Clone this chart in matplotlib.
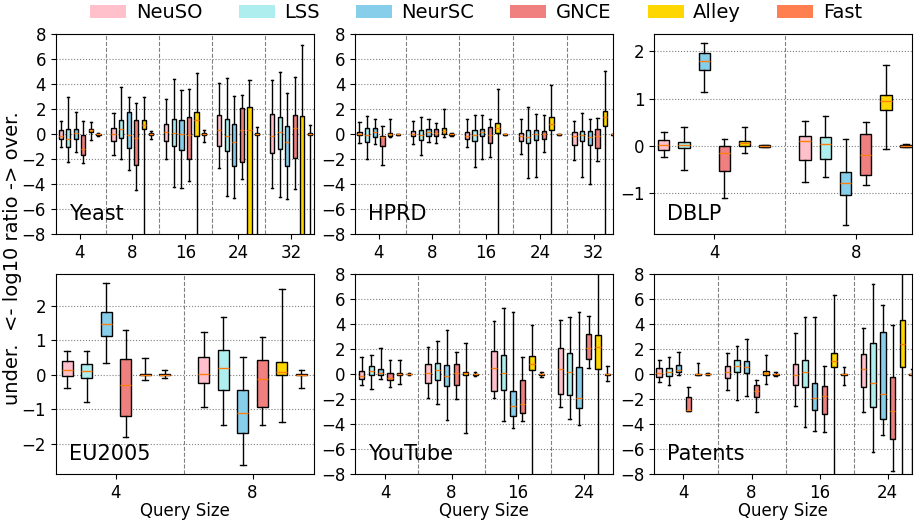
import numpy as np
import matplotlib
matplotlib.use('Agg')
import matplotlib.pyplot as plt
from matplotlib.patches import Patch

#================================================================================
# methods and colours
methods = ['NeuSO', 'LSS', 'NeurSC', 'GNCE', 'Alley', 'Fast']
colors = ['pink', 'paleturquoise', 'skyblue', 'lightcoral', 'gold', 'coral']

# each entry: (whislo, q1, median, q3, whishi) per query size
#--- Yeast
yeast_sizes = [4, 8, 16, 24, 32]
yeast_neuso = [(-1.0, -0.37, -0.1, 0.37, 1.04), (-1.63, -0.53, 0.03, 0.48, 1.7), (-2.0, -0.5, 0.16, 0.83, 2.8),
               (-2.72, -0.96, 0.35, 1.55, 4.1), (-4.3, -1.52, -0.1, 1.6, 4.37)]
yeast_lss = [(-2.2, -1.0, -0.4, 0.43, 3.0), (-1.97, -0.3, 0.43, 1.17, 3.76), (-4.2, -0.96, 0.08, 1.23, 4.43),
             (-4.93, -1.3, -0.1, 1.23, 4.5), (-5.0, -1.17, 0.2, 1.39, 5.0)]
yeast_neursc = [(-1.45, -0.37, 0.08, 0.43, 1.8), (-2.85, -1.12, -0.03, 1.8, 2.98), (-4.3, -1.25, 0.0, 1.12, 3.57),
                (-5.1, -2.5, -0.6, 0.83, 3.07), (-5.17, -2.5, -0.6, 0.7, 3.3)]
yeast_gnce = [(-2.27, -1.68, -1.15, -0.03, 1.1), (-4.43, -2.45, -0.3, 1.17, 2.48), (-3.7, -2.0, -0.05, 1.39, 3.63),
              (-3.57, -2.2, 0.32, 2.08, 3.15), (-4.4, -1.87, 0.5, 1.52, 4.56)]
yeast_alley = [(-0.43, 0.19, 0.37, 0.45, 0.96), (-9.0, 0.45, 0.75, 1.17, 3.0), (-9.0, -0.1, 1.15, 1.8, 4.9),
               (-10.0, -9.0, 0.35, 2.16, 4.37), (-10.0, -9.5, -8.8, 1.47, 7.17)]
yeast_fast = [(-0.15, -0.08, 0.0, 0.06, 0.12), (-0.35, -0.08, 0.0, 0.08, 0.24), (-0.6, -0.08, 0.0, 0.08, 0.35),
              (-9.0, -0.08, 0.0, 0.08, 0.56), (-9.0, -0.08, 0.0, 0.08, 0.72)]

#--- HPRD
hprd_sizes = [4, 8, 16, 24, 32]
hprd_neuso = [(-0.72, -0.08, 0.05, 0.21, 0.96), (-0.8, -0.13, 0.05, 0.24, 1.04), (-1.04, -0.4, -0.13, 0.16, 1.23),
              (-1.6, -0.56, -0.13, 0.08, 1.2), (-2.06, -0.86, -0.13, 0.16, 1.04)]
hprd_lss = [(-1.95, -0.59, -0.05, 0.48, 1.44), (-1.68, -0.48, -0.08, 0.37, 1.36), (-2.65, -0.53, -0.05, 0.37, 1.55),
            (-3.5, -0.67, -0.19, 0.35, 2.17), (-3.45, -0.53, -0.08, 0.27, 1.71)]
hprd_neursc = [(-0.75, -0.24, 0.21, 0.53, 1.26), (-0.61, -0.1, 0.16, 0.45, 1.26), (-1.95, -0.16, 0.19, 0.43, 1.58),
               (-3.42, -0.48, 0.0, 0.37, 1.6), (-4.0, -0.86, -0.19, 0.24, 1.26)]
hprd_gnce = [(-2.49, -0.94, -0.24, -0.1, 0.67), (-0.72, -0.1, 0.1, 0.43, 0.94), (-1.79, -0.67, -0.05, 0.56, 1.2),
             (-1.39, -0.4, 0.0, 0.29, 1.52), (-2.14, -1.12, -0.13, 0.43, 1.31)]
hprd_alley = [(-0.19, -0.13, 0.0, 0.1, 1.26), (-0.24, 0.0, 0.24, 0.51, 2.06), (-9.0, 0.13, 0.5, 0.91, 3.6),
              (-9.0, 0.35, 0.8, 1.36, 3.96), (-9.0, 0.67, 1.36, 1.87, 5.1)]
hprd_fast = [(-0.06, -0.03, 0.0, 0.03, 0.06), (-0.1, -0.04, 0.0, 0.04, 0.1), (-0.06, -0.03, 0.0, 0.03, 0.06),
             (-0.06, -0.03, 0.0, 0.03, 0.06), (-0.06, -0.03, 0.0, 0.03, 0.06)]

#--- DBLP
dblp_sizes = [4, 8]
dblp_neuso = [(-0.23, -0.08, 0.02, 0.12, 0.29), (-0.77, -0.29, 0.1, 0.22, 0.52)]
dblp_lss = [(-0.5, -0.04, 0.02, 0.09, 0.41), (-0.65, -0.27, 0.03, 0.19, 0.64)]
dblp_neursc = [(1.14, 1.6, 1.79, 1.96, 2.17), (-1.68, -1.04, -0.78, -0.55, 0.15)]
dblp_gnce = [(-1.11, -0.53, -0.15, 0.0, 0.15), (-0.82, -0.62, -0.2, 0.25, 0.51)]
dblp_alley = [(-0.15, 0.0, 0.06, 0.1, 0.39), (-0.06, 0.76, 0.95, 1.08, 1.72)]
dblp_fast = [(-0.02, -0.015, 0.0, 0.015, 0.02), (-0.03, -0.02, 0.0, 0.02, 0.03)]

#--- EU2005
eu_sizes = [4, 8]
eu_neuso = [(-0.39, -0.05, 0.13, 0.39, 0.69), (-0.94, -0.23, 0.03, 0.51, 1.23)]
eu_lss = [(-0.8, -0.11, 0.09, 0.32, 0.68), (-1.45, -0.44, 0.2, 0.7, 1.68)]
eu_neursc = [(0.35, 1.13, 1.46, 1.81, 2.65), (-2.62, -1.7, -1.1, -0.46, 0.5)]
eu_gnce = [(-1.81, -1.19, -0.29, 0.46, 1.3), (-1.47, -0.93, -0.13, 0.42, 1.1)]
eu_alley = [(-0.16, -0.02, 0.0, 0.03, 0.47), (-1.37, -0.02, 0.08, 0.36, 2.47)]
eu_fast = [(-0.1, -0.02, 0.0, 0.02, 0.12), (-0.4, -0.02, 0.0, 0.02, 0.12)]

#--- YouTube
yt_sizes = [4, 8, 16, 24]
yt_neuso = [(-0.88, -0.4, -0.13, 0.21, 1.39), (-1.9, -0.7, 0.05, 0.8, 2.19), (-1.93, -1.36, 0.45, 1.87, 4.25),
            (-2.65, -1.58, 0.37, 2.08, 4.3)]
yt_lss = [(-1.23, -0.1, 0.27, 0.64, 1.52), (-2.38, -0.45, 0.3, 0.91, 2.67), (-3.72, -1.31, 0.05, 1.52, 5.3),
          (-3.56, -1.71, 0.16, 1.71, 4.57)]
yt_neursc = [(-0.37, -0.05, 0.1, 0.4, 2.06), (-3.66, -0.94, -0.13, 0.7, 3.5), (-4.28, -3.34, -2.54, -1.34, 4.95),
             (-4.1, -2.7, -1.93, 0.59, 4.97)]
yt_gnce = [(-1.04, -0.48, -0.32, 0.08, 1.12), (-1.98, -0.88, 0.05, 0.8, 1.79), (-3.74, -3.13, -2.4, -0.5, 1.34),
           (0.5, 1.2, 2.06, 3.18, 4.68)]
yt_alley = [(-0.8, -0.05, 0.03, 0.08, 1.12), (-4.73, -0.1, 0.05, 0.19, 2.49), (-9.0, 0.29, 0.8, 1.42, 3.96),
            (-9.0, 0.43, 2.17, 3.16, 9.0)]
yt_fast = [(-0.06, -0.03, 0.0, 0.03, 0.06), (-0.15, -0.04, 0.0, 0.04, 0.15), (-0.2, -0.04, 0.0, 0.04, 0.16),
           (-0.56, -0.04, 0.0, 0.04, 0.67)]

#--- Patents
pat_sizes = [4, 8, 16, 24]
pat_neuso = [(-0.64, -0.21, 0.08, 0.45, 1.12), (-1.26, -0.32, 0.16, 0.61, 1.66), (-2.59, -0.91, -0.05, 0.8, 3.29),
             (-3.05, -1.04, 0.4, 1.58, 3.72)]
pat_lss = [(-0.91, -0.19, 0.16, 0.45, 1.36), (-2.11, 0.16, 0.64, 1.15, 2.27), (-4.22, -1.04, 0.16, 1.1, 4.6),
           (-6.28, -2.67, -0.72, 2.51, 7.22)]
pat_neursc = [(-0.1, 0.19, 0.35, 0.72, 1.76), (-1.74, 0.1, 0.59, 1.07, 2.83), (-4.55, -2.91, -1.93, -0.72, 4.57),
              (-4.84, -3.58, -1.58, 3.37, 5.53)]
pat_gnce = [(-2.97, -2.97, -2.89, -1.84, -1.07), (-3.02, -1.87, -1.36, -0.86, -0.48),
            (-4.65, -3.21, -1.79, -0.99, 0.64), (-7.73, -5.19, -2.94, -0.21, 3.93)]
pat_alley = [(-0.08, -0.05, 0.0, 0.03, 0.86), (-0.8, -0.08, 0.08, 0.21, 1.5), (-9.0, 0.53, 1.07, 1.68, 6.36),
             (-9.0, 0.53, 2.43, 4.3, 9.0)]
pat_fast = [(-0.05, -0.03, 0.0, 0.03, 0.05), (-0.13, -0.04, 0.0, 0.04, 0.16), (-0.91, -0.04, 0.0, 0.04, 0.56),
            (-9.0, -0.04, 0.0, 0.04, 0.4)]

#================================================================================
# (name, sizes, series, ylim, y tick step, x margins)
panels = [
    ('Yeast', yeast_sizes, [yeast_neuso, yeast_lss, yeast_neursc, yeast_gnce, yeast_alley, yeast_fast],
     (-8, 8), 2, (-0.45, 0.43)),
    ('HPRD', hprd_sizes, [hprd_neuso, hprd_lss, hprd_neursc, hprd_gnce, hprd_alley, hprd_fast],
     (-8, 8), 2, (-0.44, 0.36)),
    ('DBLP', dblp_sizes, [dblp_neuso, dblp_lss, dblp_neursc, dblp_gnce, dblp_alley, dblp_fast],
     (-1.87, 2.36), 1, (-0.425, 0.40)),
    ('EU2005', eu_sizes, [eu_neuso, eu_lss, eu_neursc, eu_gnce, eu_alley, eu_fast],
     (-2.88, 2.91), 1, (-0.44, 0.447)),
    ('YouTube', yt_sizes, [yt_neuso, yt_lss, yt_neursc, yt_gnce, yt_alley, yt_fast],
     (-8, 8), 2, (-0.46, 0.44)),
    ('Patents', pat_sizes, [pat_neuso, pat_lss, pat_neursc, pat_gnce, pat_alley, pat_fast],
     (-8, 8), 2, (-0.43, 0.36)),
]

fig, axes = plt.subplots(2, 3, figsize=(9.14, 5.22), dpi=100)
fig.subplots_adjust(left=0.061, right=0.998, bottom=0.092, top=0.934, wspace=0.16, hspace=0.2)

step = 1 / 7
width = 0.08

for ax, (name, sizes, series, ylim, ystep, xmargin) in zip(axes.flat, panels):
    groups = np.arange(len(sizes))
    for m, (vals, col) in enumerate(zip(series, colors)):
        stats = [dict(whislo=v[0], q1=v[1], med=v[2], q3=v[3], whishi=v[4]) for v in vals]
        pos = groups + (m - 2.5) * step
        ax.bxp(stats, positions=pos, widths=width, patch_artist=True, showfliers=False,
               manage_ticks=False,
               boxprops=dict(facecolor=col, edgecolor='black', linewidth=1),
               medianprops=dict(color='#ff7f0e', linewidth=1),
               whiskerprops=dict(color='black', linewidth=1),
               capprops=dict(color='black', linewidth=1))
    for g in groups[:-1]:
        ax.axvline(g + 0.5, color='gray', linestyle='--', linewidth=0.8)
    ax.yaxis.grid(True, linestyle=':', color='gray', linewidth=0.8)
    ax.set_axisbelow(True)
    ax.set_xticks(groups)
    ax.set_xticklabels([str(s) for s in sizes])
    ax.set_xlim(xmargin[0], groups[-1] + xmargin[1])
    ax.set_ylim(*ylim)
    lo = np.ceil(ylim[0] / ystep) * ystep
    ax.set_yticks(np.arange(lo, ylim[1] + 1e-9, ystep))
    ax.tick_params(labelsize=12)
    ax.text(0.05, 0.1, name, transform=ax.transAxes, fontsize=15, va='center')

for ax in axes[1]:
    ax.set_xlabel('Query Size', fontsize=12, labelpad=0)

fig.text(0.014, 0.505, 'under.  <- log10 ratio -> over.', rotation=90, va='center', ha='center', fontsize=14)

handles = [Patch(facecolor=c, label=l) for c, l in zip(colors, methods)]
fig.legend(handles=handles, loc='upper center', bbox_to_anchor=(0.521, 1.027), ncol=6, frameon=False,
           fontsize=14, handlelength=1.85, columnspacing=1.85, handletextpad=0.5)

plt.savefig('out.png')
